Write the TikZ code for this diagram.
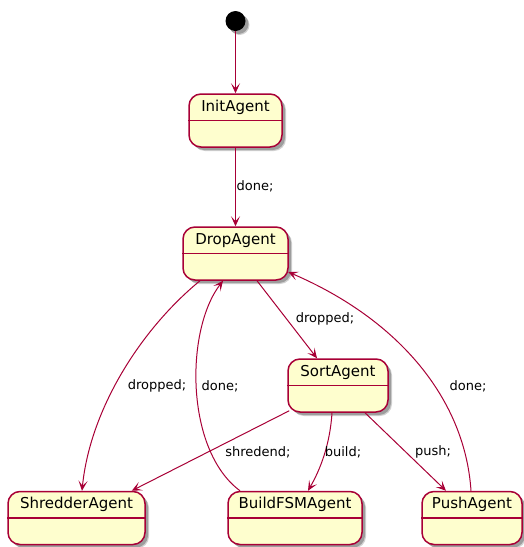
\documentclass[tikz,border=0pt]{standalone}
\usepackage{fontspec}
\setmainfont{DejaVu Sans}
\usetikzlibrary{arrows.meta,shadows}
\definecolor{pbord}{HTML}{A80036}
\definecolor{pfill}{HTML}{FEFECE}
\tikzset{
 pshadow/.style={general shadow={shadow xshift=4pt, shadow yshift=-4pt, opacity=0.18, fill=black},
                 general shadow={shadow xshift=3pt, shadow yshift=-3pt, opacity=0.25, fill=black}},
 stbox/.style={draw=pbord, fill=pfill, line width=1.5pt, rounded corners=12pt, inner sep=0, pshadow},
 sttext/.style={font=\fontsize{15}{18}\selectfont, inner sep=0},
 edge/.style={draw=pbord, line width=1pt, -{Stealth[length=10pt,width=9pt,inset=5pt]}},
 elab/.style={font=\fontsize{13}{15}\selectfont, inner sep=0}
}
\newcommand\mystate[5]{%
 \node[stbox, minimum width=#4pt, minimum height=53pt] (#1) at (#2,#3) {};
 \draw[pbord, line width=1.5pt] ([yshift=-27pt]#1.north west) -- ([yshift=-27pt]#1.north east);
 \node[sttext] (#1-t) at ([yshift=-14pt]#1.north) {#5};
}
\begin{document}
\begin{tikzpicture}[x=1pt,y=-1pt]
\useasboundingbox (0,0) rectangle (523,547);
\node[circle, fill=black, minimum size=20pt, inner sep=0, pshadow] (start) at (235.5,21) {};
\mystate{init}{235.5}{120.5}{93}{InitAgent}
\mystate{drop}{235.5}{253.5}{105}{DropAgent}
\mystate{sort}{338}{385.5}{100}{SortAgent}
\mystate{shred}{76.5}{518}{137}{ShredderAgent}
\mystate{build}{295}{518}{134}{BuildFSMAgent}
\mystate{push}{472}{518}{100}{PushAgent}

\draw[edge] (start) -- (init);
\draw[edge] (init) -- (drop);
\draw[edge] ([xshift=21.5pt]drop.south) -- ([xshift=-21pt]sort.north);
\draw[edge] ([xshift=-35.5pt]drop.south) .. controls (140,330) and (90,410) .. ([xshift=5.5pt]shred.north);
\draw[edge] ([xshift=-55pt]build.north) .. controls (185,450) and (185,330) .. ([xshift=-12.5pt]drop.south);
\draw[edge] ([xshift=-1pt]push.north) .. controls (465,400) and (400,320) .. ([xshift=-0.5pt,yshift=-18.5pt]drop.east);
\draw[edge] ([xshift=2pt,yshift=2pt]sort.south west) -- ([xshift=-14pt]shred.north east);
\draw[edge] ([xshift=-6pt]sort.south) .. controls (330,445) and (320,470) .. ([xshift=13pt]build.north);
\draw[edge] ([xshift=27pt]sort.south) -- ([xshift=-26pt]push.north);

\node[elab] (l1) at (255,186) {done;};
\node[elab] (l2) at (325,319) {dropped;};
\node[elab] (l3) at (157,386) {dropped;};
\node[elab] (l4) at (220,386) {done;};
\node[elab] (l5) at (468,386) {done;};
\node[elab] (l6) at (258,452) {shredend;};
\node[elab] (l7) at (343,452) {build;};
\node[elab] (l8) at (433,452) {push;};
\end{tikzpicture}
\end{document}
